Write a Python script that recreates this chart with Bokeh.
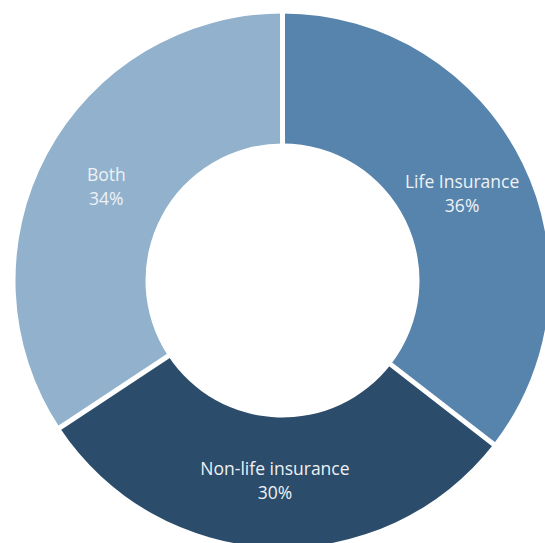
import numpy as np
from bokeh.plotting import figure
from bokeh.models import ColumnDataSource, Range1d
from bokeh.core.properties import value
from bokeh.embed import file_html
from bokeh.resources import INLINE

categories = ["Life Insurance", "Non-life insurance", "Both"]
shares = [35.5, 30.2, 34.3]
pct_labels = ["36%", "30%", "34%"]
colors = ["#5784ac", "#2b4c6a", "#91b1cc"]

W, H = 545, 543
CX, CY = 282, 280          # centre of the ring, px from top-left
R_OUT, R_IN = 267, 137
LABEL_R = 200

frac = np.array(shares) / sum(shares)
cum = np.concatenate([[0], np.cumsum(frac)])
start = np.pi / 2 - 2 * np.pi * cum[:-1]
end = np.pi / 2 - 2 * np.pi * cum[1:]
mid = (start + end) / 2

src = ColumnDataSource(dict(
    cat=categories, pct=pct_labels, color=colors,
    start=start, end=end,
    lx=LABEL_R * np.cos(mid), ly=LABEL_R * np.sin(mid),
))

p = figure(width=W, height=H, output_backend="svg", toolbar_location=None,
           x_range=Range1d(-CX, W - CX), y_range=Range1d(-(H - CY), CY),
           min_border=0, outline_line_color=None)
p.axis.visible = False
p.grid.visible = False
p.background_fill_color = "white"
p.border_fill_color = "white"

p.annular_wedge(x=0, y=0, inner_radius=R_IN, outer_radius=R_OUT,
                start_angle="start", end_angle="end", direction="clock",
                fill_color="color", line_color=None, source=src)

# white separators at the slice boundaries
b = np.pi / 2 - 2 * np.pi * cum[:-1]
p.segment(x0=(R_IN - 3) * np.cos(b), y0=(R_IN - 3) * np.sin(b),
          x1=(R_OUT + 3) * np.cos(b), y1=(R_OUT + 3) * np.sin(b),
          line_color="white", line_width=5)

p.text(x="lx", y="ly", text="cat", source=src, text_align="center",
       text_baseline="middle", y_offset=-12, text_color="#eef2f6",
       text_font=value("Open Sans"), text_font_size="17.5px")
p.text(x="lx", y="ly", text="pct", source=src, text_align="center",
       text_baseline="middle", y_offset=12, text_color="#eef2f6",
       text_font=value("Open Sans"), text_font_size="17.5px")

open("out.html", "w").write(file_html(p, INLINE))
